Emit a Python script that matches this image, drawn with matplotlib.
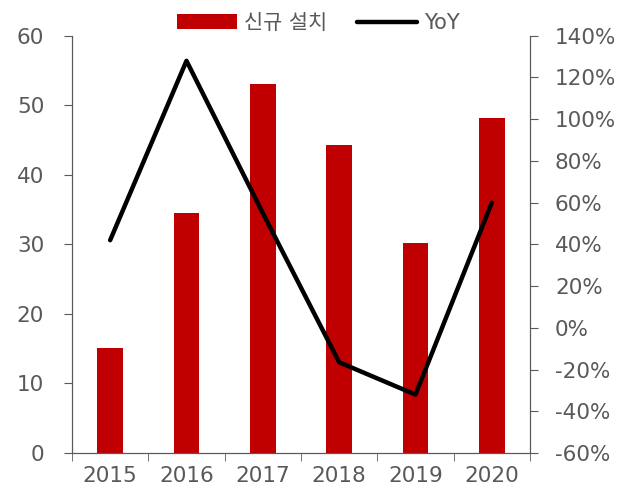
import matplotlib.pyplot as plt
import numpy as np
from matplotlib.ticker import FuncFormatter

plt.rcParams['font.family'] = ['DejaVu Sans', 'Noto Sans CJK KR']

years = ["2015", "2016", "2017", "2018", "2019", "2020"]
installs = [15.1, 34.5, 53.1, 44.3, 30.2, 48.2]
yoy = [42, 128, 55, -16.5, -32, 60]

grey = "#595959"
x = np.arange(len(years))

fig = plt.figure(figsize=(6.37, 4.88), dpi=100)
ax = fig.add_axes([0.113, 0.0717, 0.719, 0.855])
ax2 = ax.twinx()

bars = ax.bar(x, installs, width=0.34, color="#c00000", label="신규 설치", zorder=2)
line, = ax2.plot(x, yoy, color="black", linewidth=3.2, label="YoY", solid_capstyle="round")

ax.set_xlim(-0.5, len(years) - 0.5)
ax.set_ylim(0, 60)
ax.set_yticks(range(0, 61, 10))
ax2.set_ylim(-60, 140)
ax2.set_yticks(range(-60, 141, 20))
ax2.yaxis.set_major_formatter(FuncFormatter(lambda v, p: f"{int(v)}%"))

ax.set_xticks(x)
ax.set_xticklabels(years)
ax.set_xticks(np.arange(-0.5, len(years)), minor=True)
ax.tick_params(axis="x", which="major", length=0, pad=9)
ax.tick_params(axis="x", which="minor", length=6, color=grey)

ax.tick_params(axis="y", length=6, color=grey, labelsize=15.5, labelcolor=grey, pad=14)
ax2.tick_params(axis="y", length=6, color=grey, labelsize=15.5, labelcolor=grey, pad=12)
for a in (ax, ax2):
    a.spines["top"].set_visible(False)
    for s in ("left", "right", "bottom"):
        a.spines[s].set_color(grey)
ax.tick_params(axis="x", labelsize=15.5, labelcolor=grey)

fig.legend([bars, line], ["신규 설치", "YoY"], loc="upper center",
           bbox_to_anchor=(0.5, 1.012), ncol=2, frameon=False,
           fontsize=15, labelcolor=grey, handlelength=2.9, handletextpad=0.35,
           columnspacing=1.4)

fig.savefig("out.png", dpi=100)
